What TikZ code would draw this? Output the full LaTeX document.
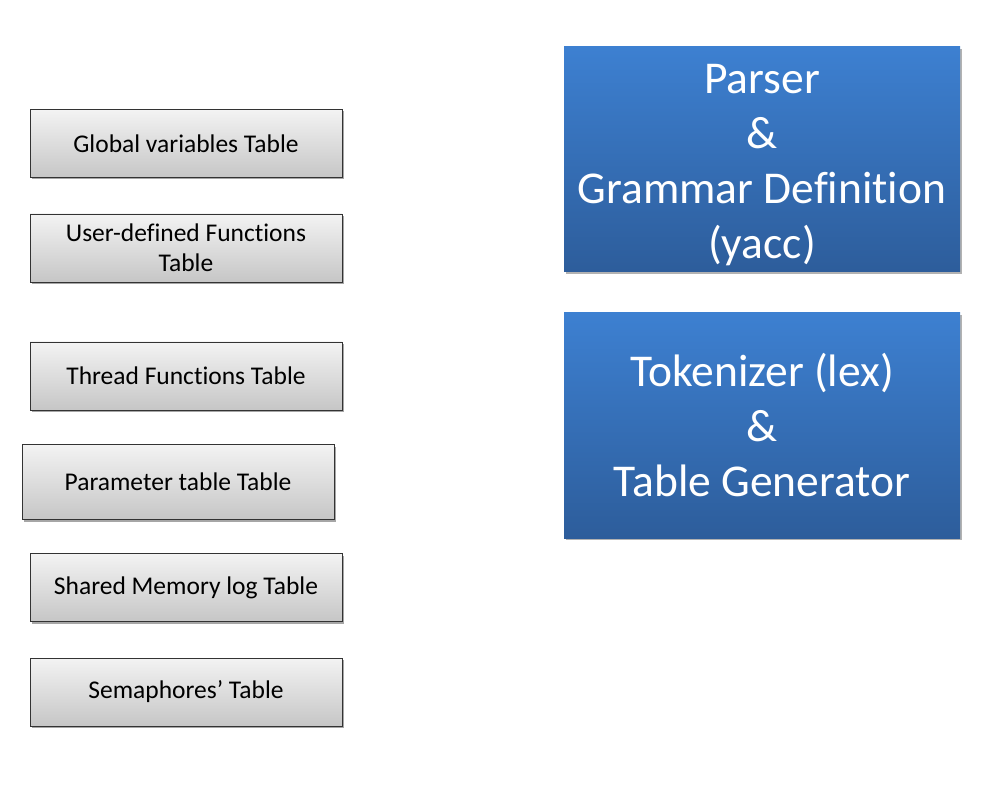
\documentclass[tikz,border=0pt]{standalone}
\usepackage{fontspec}
\setmainfont{Carlito}[Ligatures=NoCommon]
\usetikzlibrary{shadows}
\definecolor{tabletop}{RGB}{243,243,243}
\definecolor{tablebottom}{RGB}{198,198,198}
\definecolor{stagetop}{RGB}{61,128,209}
\definecolor{stagebottom}{RGB}{45,93,155}
\tikzset{
	tablebox/.style={draw=black!80, thin, top color=tabletop, bottom color=tablebottom,
		minimum width=312pt, minimum height=68pt, align=center, inner sep=0pt,
		font=\fontsize{25.5}{30}\selectfont,
		drop shadow={shadow xshift=1.5pt, shadow yshift=-2pt, opacity=0.35, fill=black}},
	stagebox/.style={top color=stagetop, bottom color=stagebottom, text=white,
		minimum width=396pt, minimum height=225pt, align=center, inner sep=0pt,
		font=\fontsize{45.5}{55}\selectfont,
		drop shadow={shadow xshift=1.5pt, shadow yshift=-2pt, opacity=0.3, fill=black}}
}
\newcommand{\drawtable}[4]{
	\node[tablebox] (#1) at (#2) {#3};
}
\begin{document}
\begin{tikzpicture}[x=1pt,y=-1pt]
	\useasboundingbox (0,0) rectangle (993,791);
	% symbol tables
	\drawtable{global}{186,143.5}{Global variables Table}{}
	\drawtable{userfunc}{186,248}{User-defined Functions\\Table}{}
	\drawtable{threadfunc}{186,376}{Thread Functions Table}{}
	\node[tablebox, minimum height=75pt] (param) at (178,482) {Parameter table Table};
	\drawtable{shmlog}{186,587.5}{Shared Memory log Table}{}
	\drawtable{sema}{186,692}{Semaphores’ Table}{}
	% compiler stages
	\node[stagebox] (parser) at (762,159.5) {\rule{0pt}{40pt}Parser\\\&\\Grammar Definition\\(yacc)};
	\node[stagebox] (tokenizer) at (762,425.5) {Tokenizer (lex)\\\&\\Table Generator};
\end{tikzpicture}
\end{document}
